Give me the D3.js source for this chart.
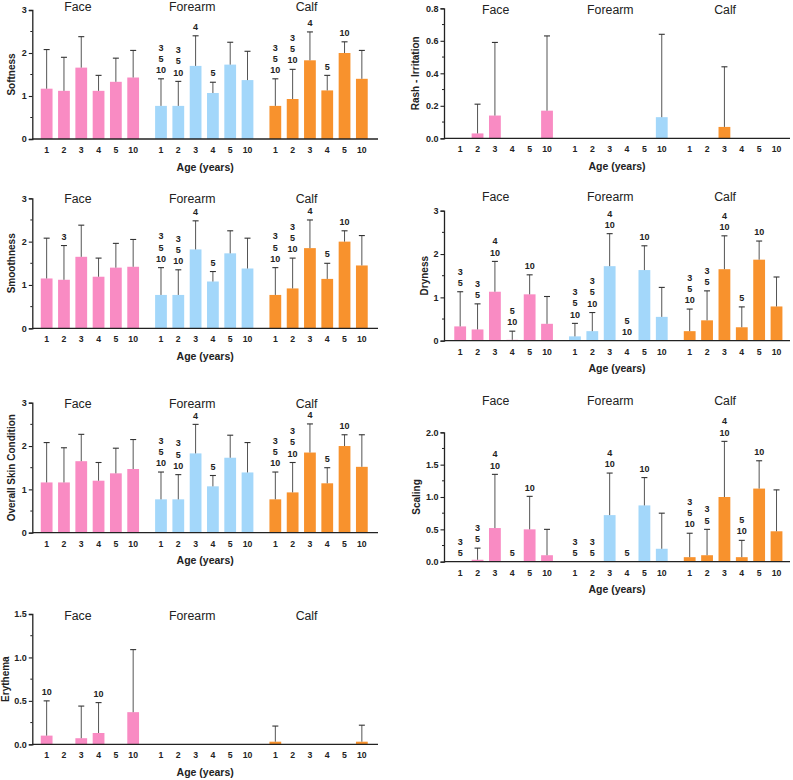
<!DOCTYPE html>
<html>
<head>
<meta charset="utf-8">
<script src="https://cdn.jsdelivr.net/npm/d3@7"></script>
<style>
  html, body { margin: 0; padding: 0; background: #fff; }
  svg { display: block; font-family: "Liberation Sans", Arial, sans-serif; }
</style>
</head>
<body>
<svg id="chart" width="793" height="780"></svg>
<script>
// ---------- DATA ----------
const ages = ["1", "2", "3", "4", "5", "10"];
const sites = ["Face", "Forearm", "Calf"];
const xAxisTitle = "Age (years)";

// mean values per site (Face, Forearm, Calf) and upper SD
const softnessMean = [[1.17, 1.12, 1.66, 1.12, 1.33, 1.43], [0.77, 0.77, 1.70, 1.07, 1.73, 1.37], [0.77, 0.93, 1.83, 1.13, 2.00, 1.40]];
const softnessSD   = [[0.91, 0.78, 0.72, 0.36, 0.55, 0.63], [0.63, 0.57, 0.70, 0.25, 0.52, 0.67], [0.63, 0.69, 0.66, 0.35, 0.26, 0.66]];
const softnessNote = [["", "", "", "", "", ""], ["3 5 10", "3 5 10", "4", "5", "", ""], ["3 5 10", "3 5 10", "4", "5", "10", ""]];

const smoothnessMean = [[1.15, 1.12, 1.65, 1.19, 1.40, 1.42], [0.77, 0.77, 1.82, 1.08, 1.73, 1.38], [0.77, 0.92, 1.85, 1.14, 2.00, 1.45]];
const smoothnessSD   = [[0.93, 0.79, 0.73, 0.43, 0.56, 0.63], [0.63, 0.58, 0.66, 0.23, 0.52, 0.70], [0.63, 0.70, 0.65, 0.36, 0.25, 0.69]];
const smoothnessNote = [["", "3", "", "", "", ""], ["3 5 10", "3 5 10", "4", "5", "", ""], ["3 5 10", "3 5 10", "4", "5", "10", ""]];

const overallMean = [[1.16, 1.16, 1.65, 1.20, 1.37, 1.47], [0.77, 0.77, 1.83, 1.07, 1.73, 1.39], [0.77, 0.93, 1.85, 1.14, 2.00, 1.52]];
const overallSD   = [[0.92, 0.80, 0.62, 0.42, 0.58, 0.68], [0.63, 0.57, 0.67, 0.25, 0.52, 0.69], [0.63, 0.69, 0.66, 0.36, 0.26, 0.74]];
const overallNote = [["", "", "", "", "", ""], ["3 5 10", "3 5 10", "4", "5", "", ""], ["3 5 10", "3 5 10", "4", "5", "10", ""]];

const erythemaMean = [[0.10, 0, 0.07, 0.13, 0, 0.37], [0, 0, 0, 0, 0, 0], [0.03, 0, 0, 0, 0, 0.03]];
const erythemaSD   = [[0.40, 0, 0.37, 0.35, 0, 0.72], [0, 0, 0, 0, 0, 0], [0.18, 0, 0, 0, 0, 0.19]];
const erythemaNote = [["10", "", "", "10", "", ""], ["", "", "", "", "", ""], ["", "", "", "", "", ""]];

const rashMean = [[0, 0.03, 0.14, 0, 0, 0.17], [0, 0, 0, 0, 0, 0.13], [0, 0, 0.07, 0, 0, 0]];
const rashSD   = [[0, 0.18, 0.45, 0, 0, 0.46], [0, 0, 0, 0, 0, 0.51], [0, 0, 0.37, 0, 0, 0]];
const rashNote = [["", "", "", "", "", ""], ["", "", "", "", "", ""], ["", "", "", "", "", ""]];

const drynessMean = [[0.33, 0.26, 1.13, 0.02, 1.07, 0.39], [0.10, 0.22, 1.72, 0, 1.63, 0.55], [0.22, 0.47, 1.65, 0.31, 1.87, 0.79]];
const drynessSD   = [[0.80, 0.59, 0.70, 0.20, 0.45, 0.63], [0.30, 0.43, 0.75, 0, 0.56, 0.68], [0.51, 0.68, 0.77, 0.47, 0.43, 0.68]];
const drynessNote = [["3 5", "3 5", "4 10", "5 10", "10", ""], ["3 5 10", "3 5 10", "4 10", "5 10", "10", ""], ["3 5 10", "3 5", "4 10", "5", "10", ""]];

const scalingMean = [[0, 0.03, 0.52, 0, 0.50, 0.10], [0, 0, 0.72, 0, 0.87, 0.20], [0.07, 0.10, 1.00, 0.07, 1.13, 0.47]];
const scalingSD   = [[0, 0.18, 0.83, 0, 0.51, 0.40], [0, 0, 0.65, 0, 0.43, 0.55], [0.37, 0.40, 0.86, 0.26, 0.43, 0.64]];
const scalingNote = [["3 5", "3 5", "4 10", "5", "10", ""], ["3 5", "3 5", "4 10", "5", "10", ""], ["3 5 10", "3 5", "4 10", "5 10", "10", ""]];

const siteColors = ["#F98BC3", "#A3D7FA", "#F8922D"];

// ---------- LAYOUT ----------
const leftCol  = { axisX: 32.3, xEnd: 378, g0: 38, g1: 370.5, labelShift: -12 };
const rightCol = { axisX: 444, xEnd: 790, g0: 451.5, g1: 785.2, labelShift: -8 };

const panels = [
  { title: "Softness", mean: softnessMean, sd: softnessSD, note: softnessNote, col: leftCol, top: 10, bottom: 139, yMax: 3, step: 1, fmt: "d", groupY: 6.5, titleOff: 20.5 },
  { title: "Smoothness", mean: smoothnessMean, sd: smoothnessSD, note: smoothnessNote, col: leftCol, top: 198.3, bottom: 328.3, yMax: 3, step: 1, fmt: "d", groupY: 198.5, titleOff: 20.5 },
  { title: "Overall Skin Condition", mean: overallMean, sd: overallSD, note: overallNote, col: leftCol, top: 402.7, bottom: 532.7, yMax: 3, step: 1, fmt: "d", groupY: 403.5, titleOff: 20.5 },
  { title: "Erythema", mean: erythemaMean, sd: erythemaSD, note: erythemaNote, col: leftCol, top: 614, bottom: 744.3, yMax: 1.5, step: 0.5, fmt: ".1f", groupY: 616, titleOff: 27 },
  { title: "Rash - Irritation", mean: rashMean, sd: rashSD, note: rashNote, col: rightCol, top: 8.3, bottom: 138.3, yMax: 0.8, step: 0.2, fmt: ".1f", groupY: 10, titleOff: 28.5 },
  { title: "Dryness", mean: drynessMean, sd: drynessSD, note: drynessNote, col: rightCol, top: 210.7, bottom: 340.7, yMax: 3, step: 1, fmt: "d", groupY: 196.7, titleOff: 20 },
  { title: "Scaling", mean: scalingMean, sd: scalingSD, note: scalingNote, col: rightCol, top: 432.3, bottom: 561.7, yMax: 2, step: 0.5, fmt: ".1f", groupY: 400.7, titleOff: 28 }
];

const svg = d3.select("#chart");
svg.append("rect").attr("width", 793).attr("height", 780).attr("fill", "#fff");

panels.forEach(p => {
  const g = svg.append("g");
  const col = p.col;

  const y = d3.scaleLinear().domain([0, p.yMax]).range([p.bottom, p.top]);
  const xSite = d3.scaleBand().domain(sites).range([col.g0, col.g1]).paddingInner(0.092).paddingOuter(0);
  const xAge = d3.scaleBand().domain(ages).range([0, xSite.bandwidth()]).paddingInner(0.32).paddingOuter(0.16);

  sites.forEach((site, si) => {
    const gs = g.append("g").attr("transform", `translate(${xSite(site)},0)`);
    const rows = ages.map((a, ai) => ({ age: a, mean: p.mean[si][ai], sd: p.sd[si][ai], note: p.note[si][ai] }));

    gs.selectAll("rect.bar").data(rows.filter(d => d.mean > 0)).join("rect")
      .attr("class", "bar")
      .attr("x", d => xAge(d.age))
      .attr("width", xAge.bandwidth())
      .attr("y", d => y(d.mean))
      .attr("height", d => y(0) - y(d.mean))
      .attr("fill", siteColors[si]);

    const eb = rows.filter(d => d.sd > 0);
    gs.selectAll("line.err").data(eb).join("line")
      .attr("class", "err")
      .attr("x1", d => xAge(d.age) + xAge.bandwidth() / 2)
      .attr("x2", d => xAge(d.age) + xAge.bandwidth() / 2)
      .attr("y1", d => y(d.mean))
      .attr("y2", d => y(d.mean + d.sd))
      .attr("stroke", "#555").attr("stroke-width", 1);
    gs.selectAll("line.cap").data(eb).join("line")
      .attr("class", "cap")
      .attr("x1", d => xAge(d.age) + xAge.bandwidth() / 2 - 3)
      .attr("x2", d => xAge(d.age) + xAge.bandwidth() / 2 + 3)
      .attr("y1", d => y(d.mean + d.sd))
      .attr("y2", d => y(d.mean + d.sd))
      .attr("stroke", "#333").attr("stroke-width", 1.1);

    rows.filter(d => d.note).forEach(d => {
      const lines = d.note.split(" ");
      const capY = y(d.mean + d.sd);
      const cx = xAge(d.age) + xAge.bandwidth() / 2;
      lines.forEach((t, li) => {
        gs.append("text")
          .attr("x", cx)
          .attr("y", capY - 9 - (lines.length - 1 - li) * 11.2)
          .attr("dy", "0.35em")
          .attr("text-anchor", "middle")
          .attr("font-size", 9).attr("font-weight", "bold").attr("fill", "#222")
          .text(t);
      });
    });

    gs.selectAll("text.xt").data(ages).join("text")
      .attr("class", "xt")
      .attr("x", a => xAge(a) + xAge.bandwidth() / 2)
      .attr("y", p.bottom + 14)
      .attr("text-anchor", "middle")
      .attr("font-size", 8.7).attr("font-weight", "bold").attr("fill", "#222")
      .text(a => a);

    g.append("text")
      .attr("x", xSite(site) + xSite.bandwidth() / 2 + col.labelShift)
      .attr("y", p.groupY)
      .attr("dy", "0.36em")
      .attr("text-anchor", "middle")
      .attr("font-size", 12.3).attr("fill", "#222")
      .text(site);
  });

  g.append("line")
    .attr("x1", col.axisX).attr("x2", col.xEnd)
    .attr("y1", p.bottom).attr("y2", p.bottom)
    .attr("stroke", "#222").attr("stroke-width", 1.3);

  const major = d3.range(0, p.yMax + 1e-9, p.step);
  const yAxis = d3.axisLeft(y).tickValues(major).tickFormat(d3.format(p.fmt)).tickSize(3.5).tickPadding(2);
  const ya = g.append("g").attr("transform", `translate(${col.axisX},0)`).call(yAxis);
  ya.select(".domain").attr("stroke", "#222").attr("stroke-width", 1.3);
  ya.selectAll(".tick line").attr("stroke", "#222").attr("stroke-width", 1.1);
  ya.selectAll(".tick text").attr("font-size", 9).attr("font-weight", "bold").attr("fill", "#222")
    .attr("font-family", "'Liberation Sans', Arial, sans-serif");
  const minor = d3.range(p.step / 2, p.yMax, p.step);
  g.selectAll("line.minor").data(minor).join("line")
    .attr("class", "minor")
    .attr("x1", col.axisX - 2).attr("x2", col.axisX)
    .attr("y1", d => y(d)).attr("y2", d => y(d))
    .attr("stroke", "#222").attr("stroke-width", 1);

  const midY = (p.top + p.bottom) / 2;
  g.append("text")
    .attr("transform", `translate(${col.axisX - p.titleOff},${midY}) rotate(-90)`)
    .attr("dy", "0.35em")
    .attr("text-anchor", "middle")
    .attr("font-size", 10).attr("font-weight", "bold").attr("fill", "#222")
    .text(p.title);

  g.append("text")
    .attr("x", (col.axisX + col.xEnd) / 2)
    .attr("y", p.bottom + 28)
    .attr("dy", "0.36em")
    .attr("text-anchor", "middle")
    .attr("font-size", 10.5).attr("font-weight", "bold").attr("fill", "#222")
    .text(xAxisTitle);
});
</script>
</body>
</html>
